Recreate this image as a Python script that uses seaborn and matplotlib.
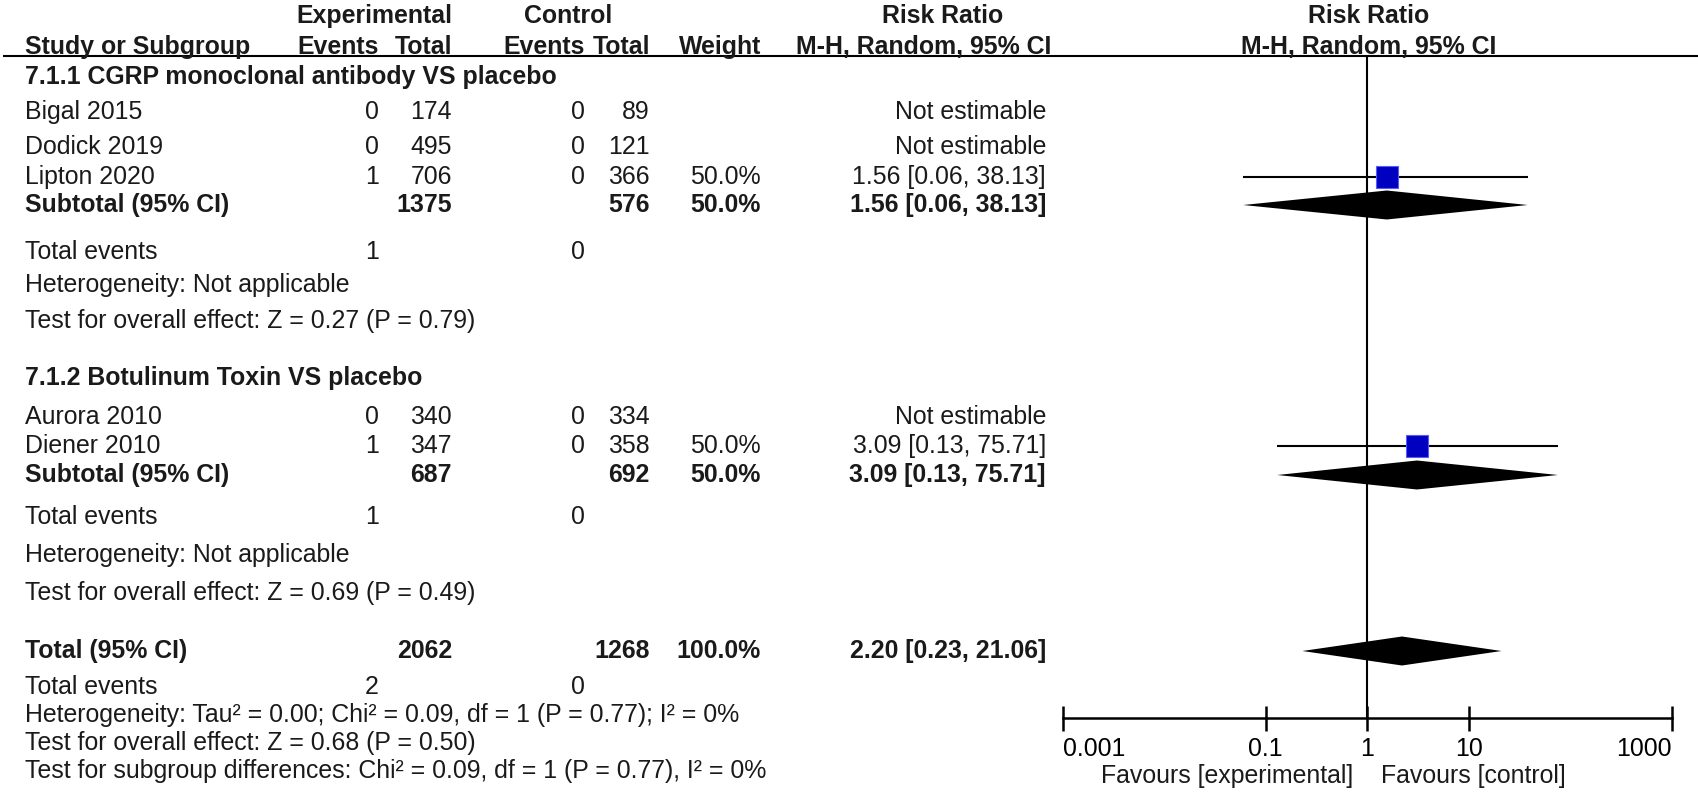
import numpy as np
import matplotlib
matplotlib.use('Agg')
import matplotlib.pyplot as plt
from matplotlib.ticker import NullLocator
import seaborn as sns

sns.set_style("white")
plt.rcParams['font.family'] = ['Liberation Sans', 'DejaVu Sans']

# ── data ──────────────────────────────────────────────
studies = ['Bigal 2015', 'Dodick 2019', 'Lipton 2020', 'Aurora 2010', 'Diener 2010']
exp_events = [0, 0, 1, 0, 1]
exp_total = [174, 495, 706, 340, 347]
ctl_events = [0, 0, 0, 0, 0]
ctl_total = [89, 121, 366, 334, 358]
weight = [np.nan, np.nan, 50.0, np.nan, 50.0]
rr = [np.nan, np.nan, 1.56, np.nan, 3.09]
rr_lo = [np.nan, np.nan, 0.06, np.nan, 0.13]
rr_hi = [np.nan, np.nan, 38.13, np.nan, 75.71]

groups = ['7.1.1 CGRP monoclonal antibody VS placebo', '7.1.2 Botulinum Toxin VS placebo']
sub_exp_events = [1, 1]
sub_exp_total = [1375, 687]
sub_ctl_events = [0, 0]
sub_ctl_total = [576, 692]
sub_weight = [50.0, 50.0]
sub_rr = [1.56, 3.09]
sub_lo = [0.06, 0.13]
sub_hi = [38.13, 75.71]
sub_z = [0.27, 0.69]
sub_p = [0.79, 0.49]

tot_exp_events, tot_exp_total = 2, 2062
tot_ctl_events, tot_ctl_total = 0, 1268
tot_weight = 100.0
tot_rr, tot_lo, tot_hi = 2.20, 0.23, 21.06
tot_tau2, tot_chi2, tot_df, tot_het_p, tot_i2 = 0.00, 0.09, 1, 0.77, 0
tot_z, tot_p = 0.68, 0.50
diff_chi2, diff_df, diff_p, diff_i2 = 0.09, 1, 0.77, 0

x_ticks = [0.001, 0.1, 1, 10, 1000]
x_tick_labels = ['0.001', '0.1', '1', '10', '1000']

# ── layout (pixels, y downward) ───────────────────────
W, H = 1699, 805
FS = 17.9
heading_y = [77, 378]
study_y = [112, 147, 177, 417, 446]
sub_y = [205, 475]
sub_events_y = [252, 517]
sub_het_y = [285, 555]
sub_test_y = [321, 593]
total_y, total_events_y, total_het_y, total_test_y, diff_y = 651, 687, 715, 743, 771
COL = dict(study=25, e_ev=379, e_tot=452, c_ev=585, c_tot=650, wt=761, rr=1046)
AX_X0, AX_X1, AX_TOP, AX_BOT = 1062.7, 1671.7, 56, 718
TXT = '#1a1a1a'

fig = plt.figure(figsize=(W / 100, H / 100), dpi=100)
bg = fig.add_axes([0, 0, 1, 1])
bg.set_xlim(0, W)
bg.set_ylim(H, 0)
bg.axis('off')


def txt(x, y, s, ha='left', bold=False, va='center'):
    bg.text(x, y, s, ha=ha, va=va, fontsize=FS, color=TXT,
            fontweight='bold' if bold else 'normal')


def fmt_ci(r, lo, hi):
    return f'{r:.2f} [{lo:.2f}, {hi:.2f}]'


# header
txt(374, 23, 'Experimental', ha='center', bold=True, va='baseline')
txt(568, 23, 'Control', ha='center', bold=True, va='baseline')
txt(943, 23, 'Risk Ratio', ha='center', bold=True, va='baseline')
txt(1369, 23, 'Risk Ratio', ha='center', bold=True, va='baseline')
txt(COL['study'], 54, 'Study or Subgroup', bold=True, va='baseline')
txt(COL['e_ev'], 54, 'Events', ha='right', bold=True, va='baseline')
txt(COL['e_tot'], 54, 'Total', ha='right', bold=True, va='baseline')
txt(COL['c_ev'], 54, 'Events', ha='right', bold=True, va='baseline')
txt(COL['c_tot'], 54, 'Total', ha='right', bold=True, va='baseline')
txt(COL['wt'], 54, 'Weight', ha='right', bold=True, va='baseline')
txt(COL['rr'] + 5, 54, 'M-H, Random, 95% CI', ha='right', bold=True, va='baseline')
txt(1369, 54, 'M-H, Random, 95% CI', ha='center', bold=True, va='baseline')
bg.plot([3, W], [AX_TOP, AX_TOP], color='black', lw=1.5, solid_capstyle='butt')

# studies
for i, name in enumerate(studies):
    y = study_y[i]
    txt(COL['study'], y, name)
    txt(COL['e_ev'], y, str(exp_events[i]), ha='right')
    txt(COL['e_tot'], y, str(exp_total[i]), ha='right')
    txt(COL['c_ev'], y, str(ctl_events[i]), ha='right')
    txt(COL['c_tot'], y, str(ctl_total[i]), ha='right')
    if np.isnan(rr[i]):
        txt(COL['rr'], y, 'Not estimable', ha='right')
    else:
        txt(COL['wt'], y, f'{weight[i]:.1f}%', ha='right')
        txt(COL['rr'], y, fmt_ci(rr[i], rr_lo[i], rr_hi[i]), ha='right')

# subgroups
for g, gname in enumerate(groups):
    txt(COL['study'], heading_y[g], gname, bold=True)
    y = sub_y[g]
    txt(COL['study'], y, 'Subtotal (95% CI)', bold=True)
    txt(COL['e_tot'], y, str(sub_exp_total[g]), ha='right', bold=True)
    txt(COL['c_tot'], y, str(sub_ctl_total[g]), ha='right', bold=True)
    txt(COL['wt'], y, f'{sub_weight[g]:.1f}%', ha='right', bold=True)
    txt(COL['rr'], y, fmt_ci(sub_rr[g], sub_lo[g], sub_hi[g]), ha='right', bold=True)
    txt(COL['study'], sub_events_y[g], 'Total events')
    txt(COL['e_ev'], sub_events_y[g], str(sub_exp_events[g]), ha='right')
    txt(COL['c_ev'], sub_events_y[g], str(sub_ctl_events[g]), ha='right')
    txt(COL['study'], sub_het_y[g], 'Heterogeneity: Not applicable')
    txt(COL['study'], sub_test_y[g],
        f'Test for overall effect: Z = {sub_z[g]:.2f} (P = {sub_p[g]:.2f})')

# overall
txt(COL['study'], total_y, 'Total (95% CI)', bold=True)
txt(COL['e_tot'], total_y, str(tot_exp_total), ha='right', bold=True)
txt(COL['c_tot'], total_y, str(tot_ctl_total), ha='right', bold=True)
txt(COL['wt'], total_y, f'{tot_weight:.1f}%', ha='right', bold=True)
txt(COL['rr'], total_y, fmt_ci(tot_rr, tot_lo, tot_hi), ha='right', bold=True)
txt(COL['study'], total_events_y, 'Total events')
txt(COL['e_ev'], total_events_y, str(tot_exp_events), ha='right')
txt(COL['c_ev'], total_events_y, str(tot_ctl_events), ha='right')
txt(COL['study'], total_het_y,
    f'Heterogeneity: Tau² = {tot_tau2:.2f}; Chi² = {tot_chi2:.2f}, df = {tot_df} '
    f'(P = {tot_het_p:.2f}); I² = {tot_i2}%')
txt(COL['study'], total_test_y,
    f'Test for overall effect: Z = {tot_z:.2f} (P = {tot_p:.2f})')
txt(COL['study'], diff_y,
    f'Test for subgroup differences: Chi² = {diff_chi2:.2f}, df = {diff_df} '
    f'(P = {diff_p:.2f}), I² = {diff_i2}%')

# ── forest panel ──────────────────────────────────────
ax = fig.add_axes([AX_X0 / W, (H - AX_BOT) / H, (AX_X1 - AX_X0) / W, (AX_BOT - AX_TOP) / H])
ax.patch.set_alpha(0)
ax.set_xscale('log')
ax.set_xlim(x_ticks[0], x_ticks[-1])
ax.set_ylim(AX_BOT, AX_TOP)
for s in ['top', 'left', 'right']:
    ax.spines[s].set_visible(False)
ax.spines['bottom'].set_linewidth(1.8)
ax.spines['bottom'].set_color('black')
ax.set_xticks(x_ticks)
ax.set_xticklabels(x_tick_labels)
ax.xaxis.set_minor_locator(NullLocator())
ax.set_yticks([])
ax.tick_params(axis='x', bottom=True, direction='inout', length=18, width=1.8,
               colors='black', labelsize=FS, pad=5)
labels = ax.get_xticklabels()
labels[0].set_ha('left')
labels[-1].set_ha('right')
ax.axvline(1, color='black', lw=1.5, zorder=1)

# confidence intervals and squares
est = [(r, lo, hi, y) for r, lo, hi, y in zip(rr, rr_lo, rr_hi, study_y) if not np.isnan(r)]
ax.hlines([e[3] for e in est], [e[1] for e in est], [e[2] for e in est],
          color='black', lw=1.5, zorder=2)
sns.scatterplot(x=[e[0] for e in est], y=[e[3] for e in est], marker='s', s=230,
                color='#0000C0', edgecolor='#5a5aff', linewidth=0.8, ax=ax,
                legend=False, zorder=3)

# diamonds
half_h = 14.5
for r, lo, hi, y in list(zip(sub_rr, sub_lo, sub_hi, sub_y)) + [(tot_rr, tot_lo, tot_hi, total_y)]:
    ax.fill([lo, r, hi, r], [y, y - half_h, y, y + half_h], color='black', lw=0, zorder=3)
ax.set_xlabel('')
ax.set_ylabel('')

bg.text(1353, 776, 'Favours [experimental]', ha='right', va='center', fontsize=FS, color=TXT)
bg.text(1381, 776, 'Favours [control]', ha='left', va='center', fontsize=FS, color=TXT)

fig.savefig('out.png', dpi=100)
